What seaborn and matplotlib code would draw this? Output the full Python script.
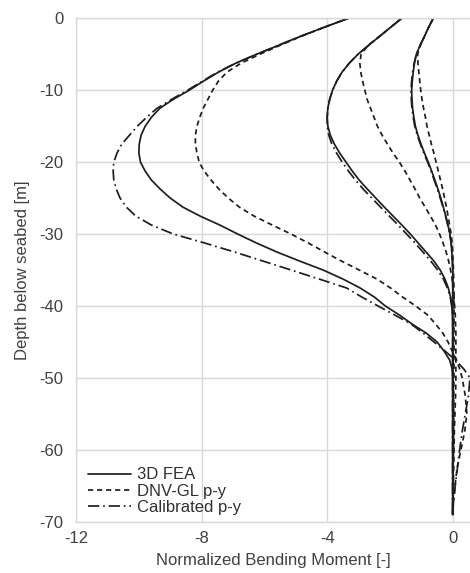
import pandas as pd
import numpy as np
import matplotlib.pyplot as plt
import seaborn as sns

# Depth below seabed [m] - shared sampling for all curves
depth = [0, -1.25, -2.5, -3.75, -5, -6.25, -7.5, -8.75, -10, -11.25, -12.5, -13.75, -15,
         -16.25, -17.5, -18.75, -20, -21.25, -22.5, -23.75, -25, -26.25, -27.5, -28.75, -30,
         -31.25, -32.5, -33.75, -35, -36.25, -37.5, -38.75, -40, -41.25, -42.5, -43.75, -45,
         -46.25, -47.5, -48.75, -50, -52.5, -55, -57.5, -60, -62.5, -65, -67.5, -69]

# Load case A (largest moment)
fea_a = [-3.33, -4.1, -4.85, -5.55, -6.25, -6.92, -7.47, -7.95, -8.4, -8.9, -9.33, -9.6, -9.8,
         -9.93, -9.99, -10.0, -9.95, -9.8, -9.6, -9.32, -9.0, -8.6, -8.05, -7.42, -6.85,
         -6.25, -5.6, -4.88, -4.13, -3.5, -2.95, -2.5, -2.15, -1.7, -1.3, -0.85, -0.5,
         -0.28, -0.1, -0.02, 0.0, 0.02, 0.02, 0.02, 0.02, 0.01, 0.01, 0.0, 0.0]
dnv_a = [-3.33, -4.1, -4.83, -5.5, -6.15, -6.75, -7.2, -7.47, -7.65, -7.8, -7.95, -8.06, -8.15,
         -8.2, -8.2, -8.15, -8.08, -7.92, -7.7, -7.45, -7.15, -6.8, -6.33, -5.75, -5.15,
         -4.6, -4.08, -3.55, -2.98, -2.42, -1.98, -1.6, -1.18, -0.8, -0.55, -0.32, -0.15,
         -0.02, 0.12, 0.22, 0.3, 0.4, 0.45, 0.38, 0.26, 0.14, 0.07, 0.02, 0.0]
cal_a = [-3.33, -4.1, -4.85, -5.55, -6.25, -6.92, -7.5, -7.98, -8.45, -8.95, -9.42, -9.75, -10.05,
         -10.3, -10.55, -10.7, -10.8, -10.82, -10.8, -10.72, -10.6, -10.4, -10.1, -9.6, -8.9,
         -7.9, -6.95, -6.05, -5.15, -4.26, -3.38, -2.9, -2.38, -1.85, -1.33, -0.95, -0.6,
         -0.25, 0.08, 0.35, 0.55, 0.5, 0.4, 0.3, 0.22, 0.15, 0.08, 0.02, 0.0]

# Load case B
fea_b = [-1.63, -1.98, -2.33, -2.68, -3.02, -3.3, -3.53, -3.7, -3.83, -3.92, -3.98, -4.0, -3.98,
         -3.9, -3.77, -3.6, -3.4, -3.2, -2.98, -2.72, -2.45, -2.18, -1.9, -1.62, -1.35,
         -1.1, -0.85, -0.6, -0.4, -0.25, -0.14, -0.07, -0.03, -0.01, 0.0, 0.0, 0.0,
         0.0, 0.0, 0.0, 0.0, 0.0, 0.0, 0.0, 0.0, 0.0, 0.0, 0.0, 0.0]
dnv_b = [-1.63, -1.98, -2.33, -2.7, -2.92, -2.96, -2.93, -2.87, -2.8, -2.73, -2.62, -2.51, -2.4,
         -2.25, -2.08, -1.9, -1.7, -1.52, -1.36, -1.2, -1.05, -0.88, -0.71, -0.55, -0.42,
         -0.31, -0.21, -0.13, -0.07, -0.02, 0.01, 0.04, 0.06, 0.08, 0.09, 0.1, 0.1,
         0.1, 0.1, 0.1, 0.1, 0.09, 0.07, 0.05, 0.04, 0.03, 0.02, 0.01, 0.0]
cal_b = [-1.63, -1.98, -2.33, -2.68, -3.02, -3.3, -3.53, -3.7, -3.83, -3.92, -3.98, -4.0, -4.0,
         -3.95, -3.85, -3.7, -3.52, -3.32, -3.1, -2.85, -2.58, -2.3, -2.02, -1.74, -1.47,
         -1.2, -0.95, -0.7, -0.48, -0.3, -0.17, -0.08, -0.03, 0.0, 0.02, 0.02, 0.02,
         0.02, 0.01, 0.01, 0.0, 0.0, 0.0, 0.0, 0.0, 0.0, 0.0, 0.0, 0.0]

# Load case C (smallest moment)
fea_c = [-0.62, -0.77, -0.9, -1.04, -1.16, -1.22, -1.26, -1.29, -1.31, -1.3, -1.28, -1.24, -1.19,
         -1.11, -1.01, -0.9, -0.78, -0.67, -0.57, -0.47, -0.38, -0.3, -0.22, -0.15, -0.09,
         -0.05, -0.03, -0.01, 0.0, 0.0, 0.0, 0.0, 0.0, 0.0, 0.0, 0.0, 0.0,
         0.0, 0.0, 0.0, 0.0, 0.0, 0.0, 0.0, 0.0, 0.0, 0.0, 0.0, 0.0]
dnv_c = [-0.62, -0.77, -0.9, -1.03, -1.12, -1.11, -1.08, -1.05, -1.02, -0.98, -0.93, -0.87, -0.82,
         -0.75, -0.68, -0.6, -0.53, -0.46, -0.39, -0.32, -0.26, -0.2, -0.15, -0.1, -0.05,
         -0.02, 0.0, 0.01, 0.02, 0.03, 0.04, 0.04, 0.04, 0.04, 0.04, 0.04, 0.04,
         0.04, 0.04, 0.04, 0.04, 0.03, 0.03, 0.02, 0.02, 0.01, 0.01, 0.0, 0.0]
cal_c = [-0.62, -0.77, -0.9, -1.04, -1.16, -1.23, -1.28, -1.31, -1.33, -1.32, -1.3, -1.26, -1.21,
         -1.13, -1.03, -0.92, -0.8, -0.69, -0.59, -0.49, -0.4, -0.31, -0.23, -0.16, -0.1,
         -0.05, -0.03, -0.01, 0.0, 0.0, 0.0, 0.0, 0.0, 0.0, 0.0, 0.0, 0.0,
         0.0, 0.0, 0.0, 0.0, 0.0, 0.0, 0.0, 0.0, 0.0, 0.0, 0.0, 0.0]

methods = ["3D FEA", "DNV-GL p-y", "Calibrated p-y"]
curves = {
    ("A", "3D FEA"): fea_a, ("A", "DNV-GL p-y"): dnv_a, ("A", "Calibrated p-y"): cal_a,
    ("B", "3D FEA"): fea_b, ("B", "DNV-GL p-y"): dnv_b, ("B", "Calibrated p-y"): cal_b,
    ("C", "3D FEA"): fea_c, ("C", "DNV-GL p-y"): dnv_c, ("C", "Calibrated p-y"): cal_c,
}

# long-form table for seaborn
rows = []
for (case, method), moment in curves.items():
    for d, m in zip(depth, moment):
        rows.append({"case": case, "method": method, "depth": d, "moment": m})
df = pd.DataFrame(rows)

sns.set_style("whitegrid")
plt.rcParams['font.family'] = ['Liberation Sans', 'DejaVu Sans']
plt.rcParams['axes.unicode_minus'] = False

fig = plt.figure(figsize=(4.7, 5.73), dpi=100)
ax = fig.add_axes([0.162, 0.0895, 0.838, 0.8785])

line_dashes = {"3D FEA": "", "DNV-GL p-y": (3.0, 2.2), "Calibrated p-y": (6.5, 2.2, 1.0, 2.2)}
sns.lineplot(data=df, x="moment", y="depth", style="method", units="case",
             style_order=methods, dashes=line_dashes, estimator=None, sort=False,
             orient="y", color="#1e1e1e", linewidth=1.25, ax=ax)

ax.set_xlim(-12, 0.55)
ax.set_ylim(-70, 0)
ax.set_xticks([-12, -8, -4, 0])
ax.set_yticks(np.arange(-70, 1, 10))
ax.grid(color="#d9d9d9", linewidth=1.0)
for side in ["top", "left", "bottom"]:
    ax.spines[side].set_color("#d9d9d9")
    ax.spines[side].set_linewidth(1.0)
ax.spines["right"].set_visible(False)
ax.tick_params(axis="both", length=0, labelsize=12, colors="#404040")
ax.tick_params(axis="y", pad=9)
ax.tick_params(axis="x", pad=7)
ax.set_xlabel("Normalized Bending Moment [-]", fontsize=12, color="#404040", labelpad=5)
ax.set_ylabel("Depth below seabed [m]", fontsize=12, color="#404040", labelpad=7)

handles, labels = ax.get_legend_handles_labels()
leg = ax.legend(handles, labels, loc="lower left", bbox_to_anchor=(0.0, -0.01),
                frameon=False, fontsize=12, handlelength=2.6, handletextpad=0.35,
                labelspacing=0.08, borderaxespad=0.3)
for t in leg.get_texts():
    t.set_color("#303030")

plt.savefig("out.png", dpi=100)
